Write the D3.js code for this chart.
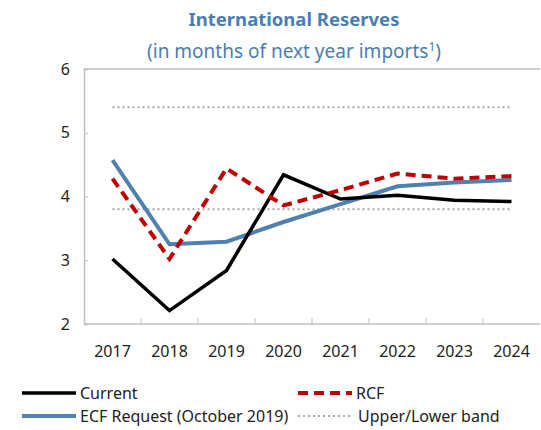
<!DOCTYPE html>
<html>
<head>
<meta charset="utf-8">
<script src="https://cdn.jsdelivr.net/npm/d3@7"></script>
<style>
  body { margin: 0; background: #fff; }
  text { font-family: "Noto Sans", sans-serif; }
</style>
</head>
<body>
<script>
const years = ["2017", "2018", "2019", "2020", "2021", "2022", "2023", "2024"]
const current = [3.02, 2.21, 2.84, 4.34, 3.96, 4.02, 3.94, 3.92]
const rcf = [4.28, 3.02, 4.44, 3.86, 4.1, 4.36, 4.28, 4.32]
const ecf = [4.57, 3.25, 3.29, 3.6, 3.88, 4.16, 4.22, 4.26]
const upperBand = 5.4
const lowerBand = 3.8
const yTicks = [2, 3, 4, 5, 6]

const svgWidth = 541
const svgHeight = 430

const margin = { top: 69, right: 1, bottom: 106, left: 84 }
const chartWidth = svgWidth - margin.left - margin.right
const chartHeight = svgHeight - margin.top - margin.bottom

const axisColor = "#bfbfbf"
const titleColor = "#4a7eb0"

const svg = d3.select("body").append("svg")
    .attr("width", svgWidth)
    .attr("height", svgHeight)

// titles
svg.append("text")
    .attr("x", 294)
    .attr("y", 26)
    .attr("text-anchor", "middle")
    .attr("font-size", 18.5)
    .attr("font-weight", "bold")
    .attr("fill", titleColor)
    .text("International Reserves")

const sub = svg.append("text")
    .attr("x", 294)
    .attr("y", 58)
    .attr("text-anchor", "middle")
    .attr("font-size", 19)
    .attr("fill", titleColor)
sub.append("tspan").text("(in months of next year imports")
sub.append("tspan").attr("font-size", 12).attr("dy", -7).text("1")
sub.append("tspan").attr("dy", 7).text(")")

const chartG = svg.append("g")
    .attr("transform", `translate(${margin.left}, ${margin.top})`)

const x = d3.scaleBand()
    .domain(years)
    .range([0, chartWidth])

const y = d3.scaleLinear()
    .domain([2, 6])
    .range([chartHeight, 0])

const cx = d => x(d) + x.bandwidth() / 2

// frame top line
chartG.append("line")
    .attr("x1", 0).attr("x2", chartWidth)
    .attr("y1", 0).attr("y2", 0)
    .attr("stroke", axisColor)
    .attr("stroke-width", 1.5)

// y axis
const yAxis = d3.axisLeft(y)
    .tickValues(yTicks)
    .tickSize(-4)
    .tickPadding(14)
    .tickFormat(d3.format("d"))

const yG = chartG.append("g").call(yAxis)
yG.select(".domain").attr("stroke", axisColor).attr("stroke-width", 1.5)
yG.selectAll(".tick line").attr("stroke", axisColor)
yG.selectAll(".tick text")
    .attr("font-size", 16)
    .attr("fill", "#222")
    .style("font-family", "'Noto Sans', sans-serif")

// x axis with ticks between categories
const xG = chartG.append("g")
    .attr("transform", `translate(0, ${chartHeight})`)
xG.append("line")
    .attr("x1", 0).attr("x2", chartWidth)
    .attr("stroke", axisColor)
    .attr("stroke-width", 1.5)
xG.selectAll(".xtick")
    .data(years.slice(1))
    .join("line")
    .attr("x1", d => x(d)).attr("x2", d => x(d))
    .attr("y1", 0).attr("y2", -6)
    .attr("stroke", axisColor)
xG.selectAll(".xlabel")
    .data(years)
    .join("text")
    .attr("x", d => cx(d))
    .attr("y", 33)
    .attr("text-anchor", "middle")
    .attr("font-size", 16)
    .attr("fill", "#222")
    .text(d => d)

// bands
const bandLine = d3.line()
    .x(d => cx(d.year))
    .y(d => y(d.v))

;[upperBand, lowerBand].forEach(b => {
    chartG.append("path")
        .attr("d", bandLine([{ year: years[0], v: b }, { year: years[years.length - 1], v: b }]))
        .attr("fill", "none")
        .attr("stroke", "#a6a6a6")
        .attr("stroke-width", 2)
        .attr("stroke-dasharray", "2,3")
})

const line = d3.line()
    .x((d, i) => cx(years[i]))
    .y(d => y(d))

chartG.append("path")
    .attr("d", line(ecf))
    .attr("fill", "none")
    .attr("stroke", "#4f81b0")
    .attr("stroke-width", 4)

chartG.append("path")
    .attr("d", line(current))
    .attr("fill", "none")
    .attr("stroke", "#000000")
    .attr("stroke-width", 3.5)

chartG.append("path")
    .attr("d", line(rcf))
    .attr("fill", "none")
    .attr("stroke", "#c00000")
    .attr("stroke-width", 4)
    .attr("stroke-dasharray", "10,6")

// legend
const legendItems = [
    { label: "Current", color: "#000000", width: 3.5, dash: null, x: 22, y: 393 },
    { label: "RCF", color: "#c00000", width: 4, dash: "10,6", x: 298, y: 393 },
    { label: "ECF Request (October 2019)", color: "#4f81b0", width: 4, dash: null, x: 22, y: 416 },
    { label: "Upper/Lower band", color: "#a6a6a6", width: 2, dash: "2,3", x: 298, y: 416 }
]

const legend = svg.selectAll(".legend")
    .data(legendItems)
    .join("g")
    .attr("transform", d => `translate(${d.x}, ${d.y})`)

legend.append("line")
    .attr("x1", 0).attr("x2", 54)
    .attr("stroke", d => d.color)
    .attr("stroke-width", d => d.width)
    .attr("stroke-dasharray", d => d.dash)

legend.append("text")
    .attr("x", d => d.label === "Upper/Lower band" ? 60 : 58)
    .attr("y", 6)
    .attr("font-size", 16)
    .attr("fill", "#222")
    .text(d => d.label)
</script>
</body>
</html>
